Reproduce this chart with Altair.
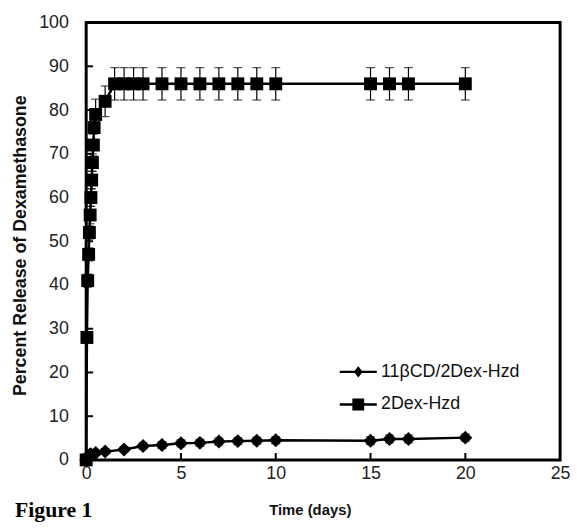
import altair as alt
import pandas as pd

# ---------------- data ----------------
series_names = ["11βCD/2Dex-Hzd", "2Dex-Hzd"]

cd_t = [0, 0.04, 0.08, 0.17, 0.25, 0.5, 1, 2, 3, 4, 5, 6, 7, 8, 9, 10, 15, 16, 17, 20]
cd_v = [0, 0.5, 0.8, 1.1, 1.3, 1.6, 1.9, 2.4, 3.2, 3.4, 3.8, 3.9, 4.2, 4.3, 4.4, 4.5, 4.4, 4.8, 4.8, 5.1]
cd_e = [0, 0.2, 0.3, 0.3, 0.4, 0.5, 0.6, 0.6, 0.7, 0.8, 0.8, 0.8, 0.8, 0.8, 0.8, 0.8, 0.9, 0.9, 0.9, 0.8]

dex_t = [0, 0.04, 0.08, 0.13, 0.17, 0.21, 0.25, 0.29, 0.33, 0.38, 0.42, 0.5, 1, 1.5, 2, 2.5, 3,
         4, 5, 6, 7, 8, 9, 10, 15, 16, 17, 20]
dex_v = [0, 28, 41, 47, 52, 56, 60, 64, 68, 72, 76, 79, 82, 86, 86, 86, 86,
         86, 86, 86, 86, 86, 86, 86, 86, 86, 86, 86]
dex_e = [0, 1.0, 1.5, 1.5, 1.5, 2.0, 2.0, 2.0, 2.0, 2.5, 3.0, 3.5, 3.5, 3.7, 3.7, 3.7, 3.7,
         3.7, 3.7, 3.7, 3.7, 3.7, 3.7, 3.7, 3.7, 3.7, 3.7, 3.7]

x_labels = [0, 5, 10, 15, 20, 25]
y_labels = [0, 10, 20, 30, 40, 50, 60, 70, 80, 90, 100]
x_inner_ticks = [5, 10, 15, 20]
y_inner_ticks = [10, 20, 30, 40, 50, 60, 70, 80, 90]

rows = []
for t, v, e in zip(cd_t, cd_v, cd_e):
    rows.append(dict(series=series_names[0], t=t, v=v, lo=v - e, hi=v + e))
for t, v, e in zip(dex_t, dex_v, dex_e):
    rows.append(dict(series=series_names[1], t=t, v=v, lo=v - e, hi=v + e))
df = pd.DataFrame(rows)

W, H = 479, 442
FONT = "Liberation Sans"

xs = alt.Scale(domain=[0, 25], nice=False, zero=False)
ys = alt.Scale(domain=[0, 100], nice=False)

x_enc = alt.X("t:Q", scale=xs, axis=alt.Axis(
    values=x_labels, title="Time (days)", grid=False, domain=False, ticks=False, tickSize=0,
    labelFlush=False, labelBound=False,
    labelFont=FONT, labelFontSize=18, labelColor="#222", labelPadding=5,
    titleFont=FONT, titleFontSize=15, titleFontWeight="bold", titleColor="#111", titlePadding=20,
    titleX=226))
y_enc = alt.Y("v:Q", scale=ys, axis=alt.Axis(
    values=y_labels, title="Percent Release of Dexamethasone", grid=False, domain=False,
    ticks=False, tickSize=0, labelFlush=False, labelBound=False,
    labelFont=FONT, labelFontSize=18, labelColor="#222", labelPadding=18,
    titleFont=FONT, titleFontSize=18, titleFontWeight="bold", titleColor="#111", titlePadding=9,
    titleY=225))

base = alt.Chart(df)

frame = alt.Chart(pd.DataFrame({"k": [0]})).mark_rect(
    fillOpacity=0, stroke="black", strokeWidth=3).encode(
    x=alt.value(0), x2=alt.value(W), y=alt.value(0), y2=alt.value(H))

lines = base.mark_line(color="black", strokeWidth=2.5).encode(x=x_enc, y=y_enc, detail="series:N")

err = base.mark_rule(color="black", strokeWidth=1.2).encode(x="t:Q", y="lo:Q", y2="hi:Q")
cap_lo = base.mark_tick(color="black", orient="horizontal", size=9, thickness=1.2).encode(x="t:Q", y="lo:Q")
cap_hi = base.mark_tick(color="black", orient="horizontal", size=9, thickness=1.2).encode(x="t:Q", y="hi:Q")

pts_cd = base.transform_filter(alt.datum.series == series_names[0]).mark_point(
    shape="diamond", filled=True, color="black", size=200, opacity=1).encode(x="t:Q", y="v:Q")
pts_dex = base.transform_filter(alt.datum.series == series_names[1]).mark_point(
    shape="square", filled=True, color="black", size=170, opacity=1).encode(x="t:Q", y="v:Q")

# legend symbols: a filled bar for the line plus the marker (filled sub-paths)
diamond_path = "M-1,-0.065L1,-0.065L1,0.065L-1,0.065Z M0,-0.3L0.24,0L0,0.3L-0.24,0Z"
square_path = "M-1,-0.065L1,-0.065L1,0.065L-1,0.065Z M-0.32,-0.32L0.32,-0.32L0.32,0.32L-0.32,0.32Z"

legend_layer = base.transform_filter("datum.t < -1").mark_point(
    filled=True, color="black", opacity=1).encode(
    x="t:Q", y="v:Q",
    shape=alt.Shape("series:N", scale=alt.Scale(domain=series_names, range=[diamond_path, square_path]),
                    legend=alt.Legend(title=None, orient="none", legendX=256, legendY=334,
                                      symbolSize=1400, symbolFillColor="black",
                                      symbolStrokeWidth=0, labelFont=FONT, labelFontSize=18,
                                      labelColor="#111", labelOffset=4, rowPadding=5, padding=0)))

# inward ticks drawn from tick values
xt = alt.Chart(pd.DataFrame({"v": x_inner_ticks})).mark_rule(color="black", strokeWidth=2).encode(
    x=alt.X("v:Q", scale=xs), y=alt.value(H), y2=alt.value(H - 7))
yt = alt.Chart(pd.DataFrame({"v": y_inner_ticks})).mark_rule(color="black", strokeWidth=2).encode(
    y=alt.Y("v:Q", scale=ys), x=alt.value(0), x2=alt.value(7))

fig = alt.Chart(pd.DataFrame({"label": ["Figure 1"]})).mark_text(
    font="Liberation Serif", fontSize=22, fontWeight="bold", align="left", baseline="alphabetic",
    color="black").encode(text="label:N", x=alt.value(-72), y=alt.value(H + 58))

chart = alt.layer(frame, lines, err, cap_lo, cap_hi, pts_cd, pts_dex, legend_layer, xt, yt, fig).resolve_scale(
    shape="independent").properties(
    width=W, height=H,
    autosize=alt.AutoSizeParams(type="none"),
    padding={"left": 79, "top": 12, "right": 10, "bottom": 62},
).configure_view(stroke=None).configure(background="white")

chart.save("out.html", embed_options={"renderer": "svg", "actions": False})
